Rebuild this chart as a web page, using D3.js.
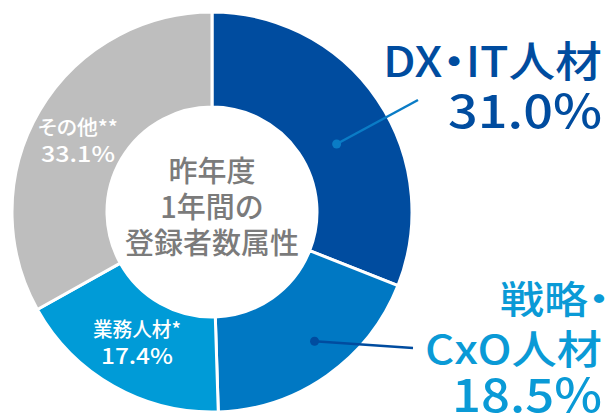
<!DOCTYPE html>
<html>
<head>
<meta charset="utf-8">
<script src="https://cdn.jsdelivr.net/npm/d3@7"></script>
<style>
  body { margin: 0; background: #fff; }
  text { font-family: "Noto Sans CJK JP", "Noto Sans", sans-serif; }
  .palt { font-feature-settings: "palt"; }
</style>
</head>
<body>
<div class="static-image"></div>
<script>
var categories = ["DX・IT人材", "戦略・CxO人材", "業務人材*", "その他**"];
var values = [31.0, 18.5, 17.4, 33.1];
var colors = ["#004c9f", "#0078c3", "#009bd7", "#bebebe"];
var centerLines = ["昨年度", "1年間の", "登録者数属性"];

var width = 611;
var height = 414;
var cx = 212, cy = 212;
var outerR = 200, innerR = 105;

var data = categories.map(function (c, i) {
    return { name: c, value: values[i], color: colors[i] };
});

var svg = d3.select(".static-image")
    .append("svg")
    .attr("width", width)
    .attr("height", height);

var pie = d3.pie()
    .sort(null)
    .value(function (d) { return d.value; });

var arc = d3.arc()
    .innerRadius(innerR)
    .outerRadius(outerR);

var arcs = pie(data);

var g = svg.append("g").attr("transform", "translate(" + cx + "," + cy + ")");

g.selectAll("path")
    .data(arcs)
    .enter()
    .append("path")
    .attr("d", arc)
    .attr("fill", function (d) { return d.data.color; })
    .attr("stroke", "#fff")
    .attr("stroke-width", 3);

// 中央テキスト
g.selectAll("text.center")
    .data(centerLines)
    .enter()
    .append("text")
    .classed("center", true)
    .attr("x", 0)
    .attr("y", function (d, i) { return -30 + i * 36; })
    .attr("text-anchor", "middle")
    .attr("fill", "#7b7b7b")
    .attr("font-size", 29)
    .attr("font-weight", 500)
    .text(function (d) { return d; });

// 引き出し線 (大きいラベルの2項目)
function polar(a, r) {
    return [Math.sin(a) * r, -Math.cos(a) * r];
}
var leaders = [
    { i: 0, frac: 0.55, r: 142, end: [206, -112], color: "#0a7cc6" },
    { i: 1, frac: 0.45, r: 165, end: [201, 136], color: "#004c9f" }
];
leaders.forEach(function (l) {
    var a = arcs[l.i];
    var ang = a.startAngle + (a.endAngle - a.startAngle) * l.frac;
    var p = polar(ang, l.r);
    g.append("line")
        .attr("x1", p[0]).attr("y1", p[1])
        .attr("x2", l.end[0]).attr("y2", l.end[1])
        .attr("stroke", l.color)
        .attr("stroke-width", 2.5);
    g.append("circle")
        .attr("cx", p[0]).attr("cy", p[1])
        .attr("r", 4.5)
        .attr("fill", l.color);
});

function pct(v) { return v.toFixed(1) + "%"; }

// 横幅を合わせる (左端x, ベースラインy, 幅w)
function fitText(txt, x, y, w, size, color) {
    var t = svg.append("text")
        .classed("palt", true)
        .attr("fill", color)
        .attr("font-size", size)
        .attr("font-weight", 500)
        .text(txt);
    var len = t.node().getComputedTextLength();
    var s = w / len;
    t.attr("transform", "translate(" + x + "," + y + ") scale(" + s + ",1)");
    return t;
}

// 外側ラベル
fitText(categories[0], 383, 77, 219, 42, "#004c9f");
fitText(pct(values[0]), 448, 128, 154, 46, "#004c9f");

fitText("戦略・", 500, 313, 110, 38, "#0a9ad6");
fitText("CxO人材", 425, 364, 177, 40, "#0a9ad6");
fitText(pct(values[1]), 452, 412, 150, 46, "#0a9ad6");

// 内側ラベル (白)
var small = [
    { i: 2, x: 93, y: 337, w1: 88, w2: 72 },
    { i: 3, x: 38, y: 135, w1: 80, w2: 74 }
];
small.forEach(function (s) {
    fitText(categories[s.i], s.x, s.y, s.w1, 20, "#fff");
    fitText(pct(values[s.i]), s.x + (s.w1 - s.w2) / 2, s.y + 27, s.w2, 22, "#fff");
});
</script>
</body>
</html>
